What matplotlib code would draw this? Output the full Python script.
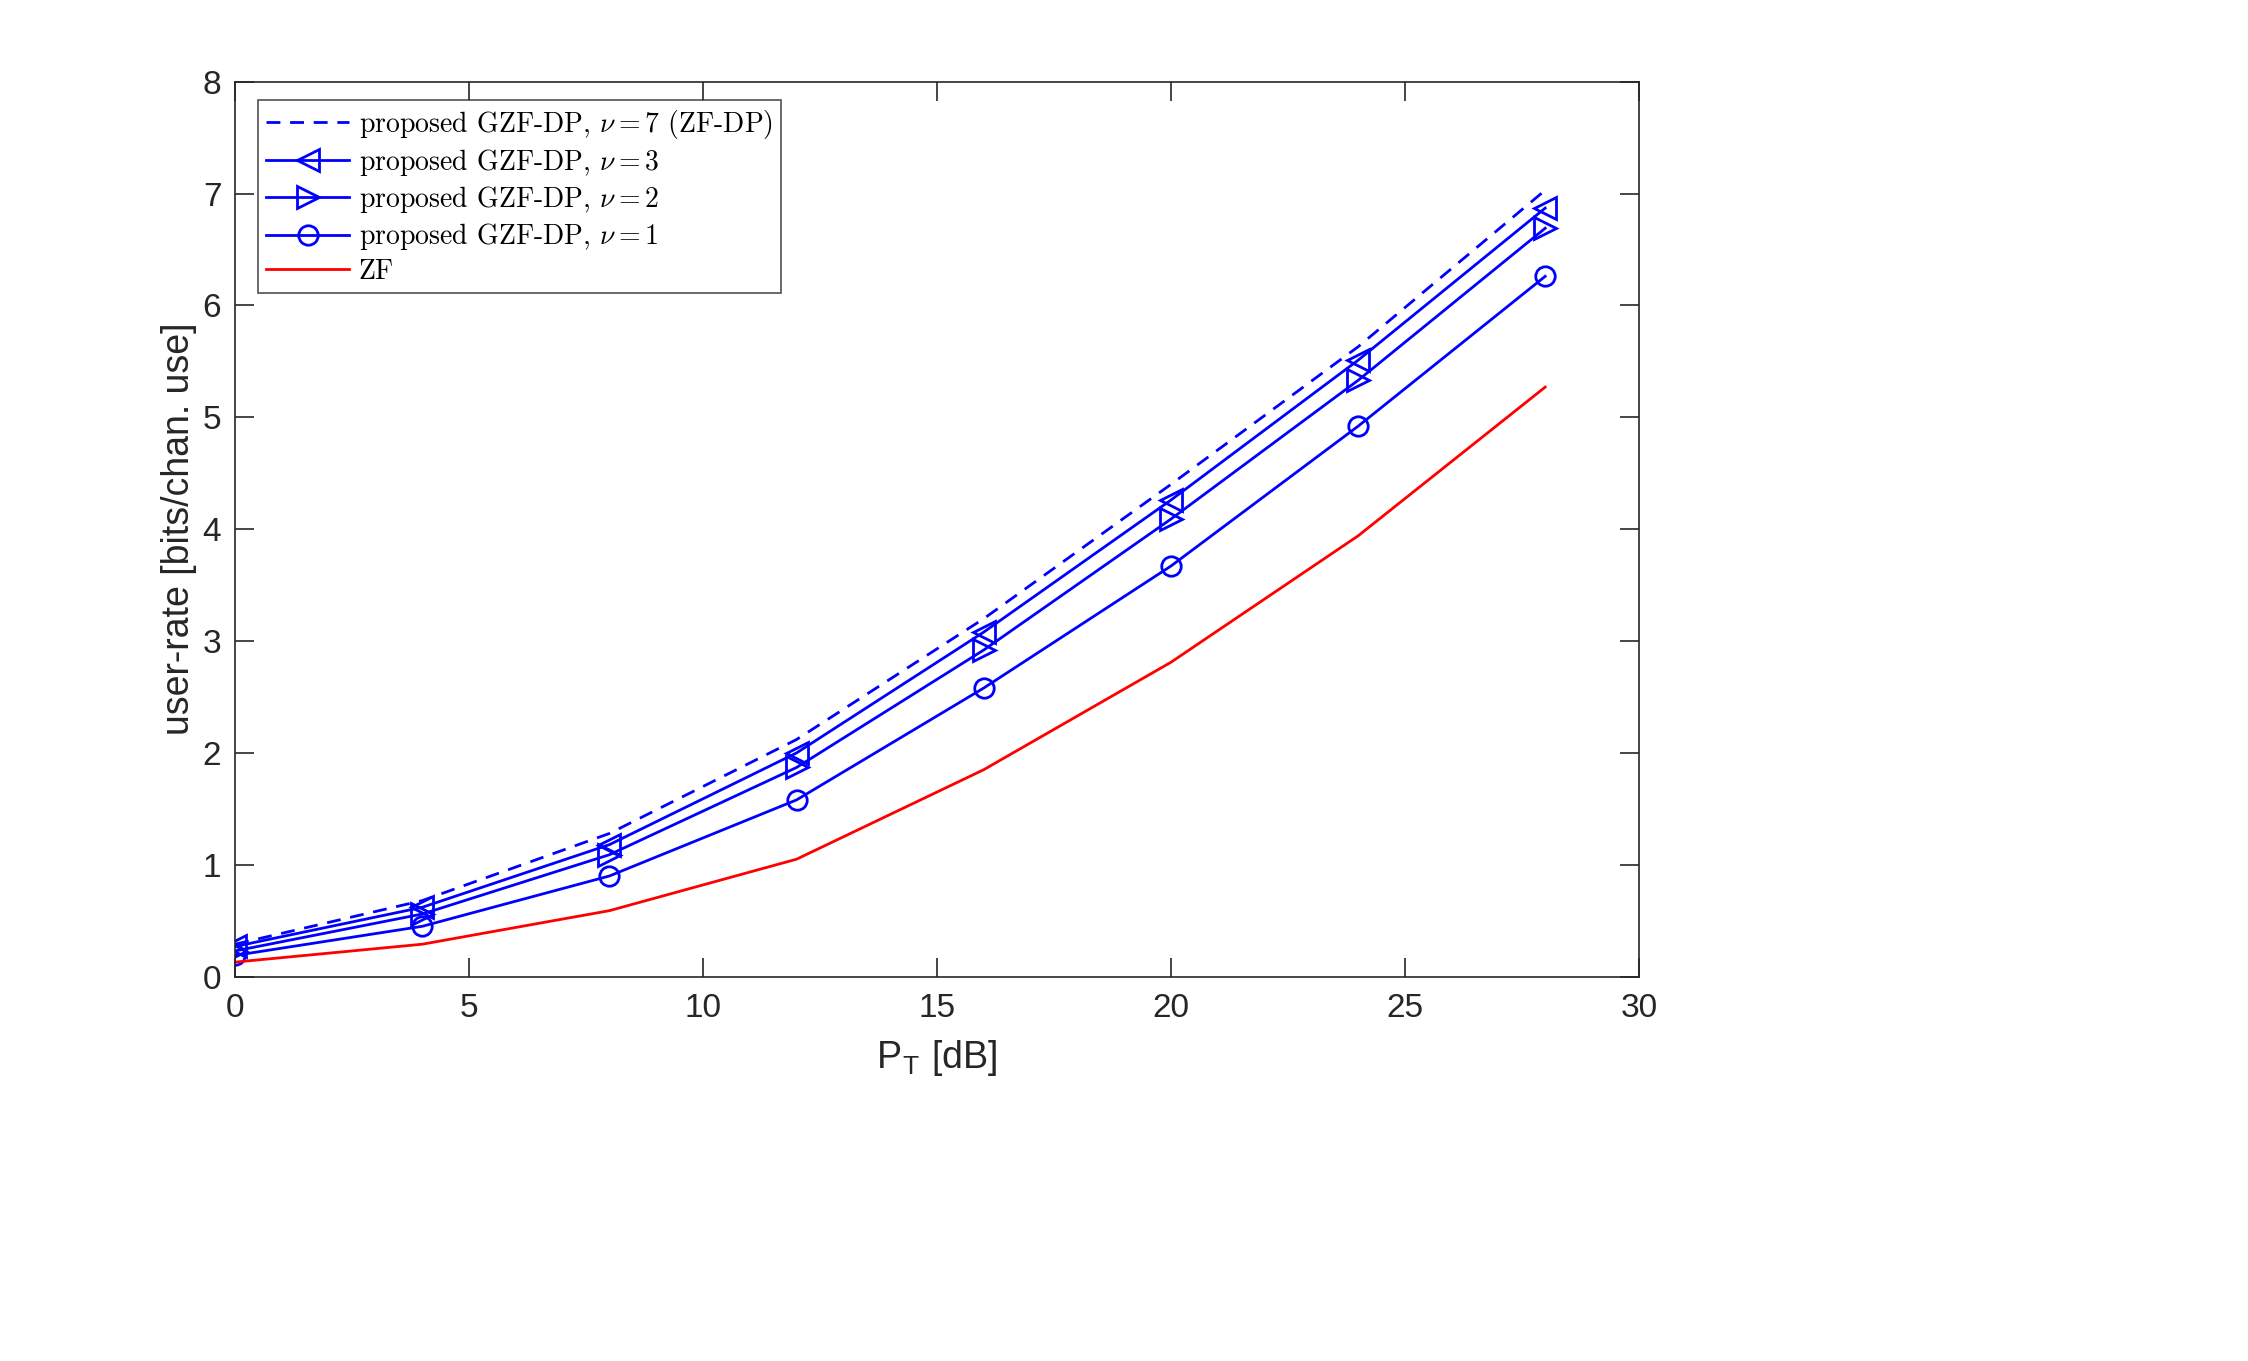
import matplotlib
matplotlib.use("Agg")
import matplotlib.pyplot as plt
from matplotlib import font_manager

pt = [0, 4, 8, 12, 16, 20, 24, 28]
rate_nu7 = [0.29, 0.68, 1.28, 2.12, 3.20, 4.40, 5.63, 7.03]
rate_nu3 = [0.27, 0.62, 1.18, 2.00, 3.08, 4.26, 5.51, 6.87]
rate_nu2 = [0.23, 0.56, 1.09, 1.87, 2.92, 4.09, 5.33, 6.69]
rate_nu1 = [0.19, 0.45, 0.90, 1.58, 2.58, 3.67, 4.92, 6.26]
rate_zf = [0.13, 0.29, 0.59, 1.05, 1.85, 2.81, 3.94, 5.27]

xticks = [0, 5, 10, 15, 20, 25, 30]
yticks = [0, 1, 2, 3, 4, 5, 6, 7, 8]

names = {f.name for f in font_manager.fontManager.ttflist}
narrow = 'Liberation Sans Narrow' if 'Liberation Sans Narrow' in names else 'Liberation Sans'

plt.rcParams['mathtext.fontset'] = 'cm'

fig = plt.figure(figsize=(22.48, 13.61), dpi=100)
ax = fig.add_axes([0.1046, 0.2824, 0.729 - 0.1046, 0.940 - 0.2824])

blue = '#0000ff'
lw = 2.0
ax.plot(pt, rate_nu7, '--', color=blue, lw=lw, dashes=(5, 3.5),
        label=r'proposed GZF-DP, $\nu=7$ (ZF-DP)')
ax.plot(pt, rate_nu3, '-', color=blue, lw=lw, marker='<', ms=16, mfc='none', mew=2.0,
        label=r'proposed GZF-DP, $\nu=3$')
ax.plot(pt, rate_nu2, '-', color=blue, lw=lw, marker='>', ms=16, mfc='none', mew=2.0,
        label=r'proposed GZF-DP, $\nu=2$')
ax.plot(pt, rate_nu1, '-', color=blue, lw=lw, marker='o', ms=14, mfc='none', mew=2.0,
        label=r'proposed GZF-DP, $\nu=1$')
ax.plot(pt, rate_zf, '-', color='#ff0000', lw=lw, label='ZF')

ax.set_xlim(0, 30)
ax.set_ylim(0, 8)
ax.set_xticks(xticks)
ax.set_yticks(yticks)
ax.tick_params(direction='in', length=14, width=1.2, top=True, right=True,
               labelsize=24, colors='#262626')
ax.tick_params(axis='x', pad=12)
ax.tick_params(axis='y', pad=10)
for lab in ax.get_xticklabels() + ax.get_yticklabels():
    lab.set_fontfamily('Liberation Sans')
    lab.set_color('#262626')
for s in ax.spines.values():
    s.set_linewidth(1.2)
    s.set_color('#262626')

ax.set_xlabel(r'P$_\mathregular{T}$ [dB]', fontsize=27, family=narrow, color='#262626', labelpad=10)
ax.set_ylabel('user-rate [bits/chan. use]', fontsize=27, family=narrow, color='#262626', labelpad=4)

leg = ax.legend(loc='upper left', bbox_to_anchor=(0.016, 0.98),
                prop={'family': 'cmr10', 'size': 20}, frameon=True, fancybox=False,
                edgecolor='#262626', handlelength=3.0, handletextpad=0.35,
                borderpad=0.3, labelspacing=0.22, borderaxespad=0)
leg.get_frame().set_linewidth(1.2)

fig.savefig('out.png', dpi=100, facecolor='white')
